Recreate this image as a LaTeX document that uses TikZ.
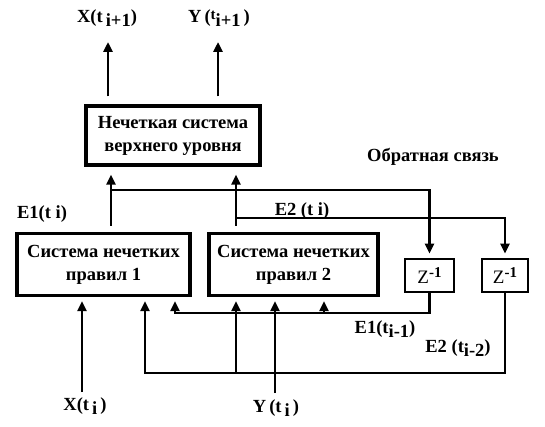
\documentclass[tikz,border=0pt]{standalone}
\usepackage{fontspec}
\setmainfont{Liberation Serif}
\usetikzlibrary{arrows.meta}
\begin{document}
\begin{tikzpicture}[x=1pt,y=-1pt,
  every node/.style={font=\fontsize{18.5}{23}\selectfont\bfseries, inner sep=0pt},
  bigbox/.style={draw, line width=3.2pt, align=center},
  zbox/.style={draw, line width=2.8pt, minimum width=46pt, minimum height=33pt},
  arr/.style={line width=2.6pt, -{Triangle[length=10pt,width=9pt]}},
  lbl/.style={}
]
\useasboundingbox (0,0) rectangle (545,427);
% boxes
\node[bigbox, minimum width=174pt, minimum height=59pt] (top) at (173,135.5) {Нечеткая система\\верхнего уровня};
\node[bigbox, minimum width=173pt, minimum height=62pt] (sys1) at (103.5,264.5) {Система нечетких\\правил 1};
\node[bigbox, minimum width=169pt, minimum height=62pt] (sys2) at (293.5,264.5) {Система нечетких\\правил 2};
\node[zbox, minimum width=49pt] (z1) at (429.5,275.5) {{\mdseries\fontsize{19}{19}\selectfont Z}\raisebox{0.75ex}{\fontsize{15}{15}\selectfont -1}};
\node[zbox] (z2) at (505,275.5) {{\mdseries\fontsize{19}{19}\selectfont Z}\raisebox{0.75ex}{\fontsize{15}{15}\selectfont -1}};
% labels
\node[lbl] (lx1) at (107,18) {X(t\,\raisebox{-0.5ex}{i+1})};
\node[lbl] (ly1) at (219,18) {Y\,(\raisebox{0.3ex}{\fontsize{15}{15}\selectfont t}\raisebox{-0.5ex}{i+1}\,)};
\node[lbl] (le1) at (42,214) {E1(t i)};
\node[lbl] (le2) at (302,211) {E2 (t i)};
\node[lbl] (lfb) at (433,157) {Обратная связь};
\node[lbl] (le1m) at (385,329) {E1(t\raisebox{-0.5ex}{i-1})};
\node[lbl] (le2m) at (458,348) {E2 (t\raisebox{-0.5ex}{i-2})};
\node[lbl] (lxi) at (85,406) {X(t\,\raisebox{-0.5ex}{i}\,)};
\node[lbl] (lyi) at (276,408) {Y\,(t\,\raisebox{-0.5ex}{i}\,)};
% coordinates
\coordinate (o1) at (108,42);
\coordinate (o2) at (218,42);
\coordinate (ja) at (111,190);
\coordinate (jb) at (236,218);
\coordinate (ka) at (175,313);
\coordinate (kb) at (324,313);
\coordinate (ma) at (145,373);
\coordinate (mb) at (236,373);
\coordinate (xi) at (82,392);
\coordinate (yi) at (275,393);
% outputs
\draw[arr, shorten <=8pt] (top.north -| o1) -- (o1);
\draw[arr, shorten <=8pt] (top.north -| o2) -- (o2);
% to top box
\draw[arr, shorten <=6pt, shorten >=8pt] (sys1.north -| ja) -- (top.south -| ja);
\draw[arr, shorten <=6pt, shorten >=8pt] (sys2.north -| jb) -- (top.south -| jb);
% feedback to delays
\draw[arr, shorten >=4pt] (ja) -| (z1.north);
\draw[arr, shorten >=4pt] (jb) -| (z2.north);
% delayed feedback
\draw[arr, shorten >=4pt] (z1.south) |- (ka) -- (sys1.south -| ka);
\draw[arr, shorten >=4pt] (kb) -- (sys2.south -| kb);
\draw[arr, shorten >=4pt] (z2.south) |- (ma) -- (sys1.south -| ma);
\draw[arr, shorten >=4pt] (mb) -- (sys2.south -| mb);
% inputs
\draw[arr, shorten >=4pt] (xi) -- (sys1.south -| xi);
\draw[arr, shorten >=4pt] (yi) -- (sys2.south -| yi);
\end{tikzpicture}
\end{document}
